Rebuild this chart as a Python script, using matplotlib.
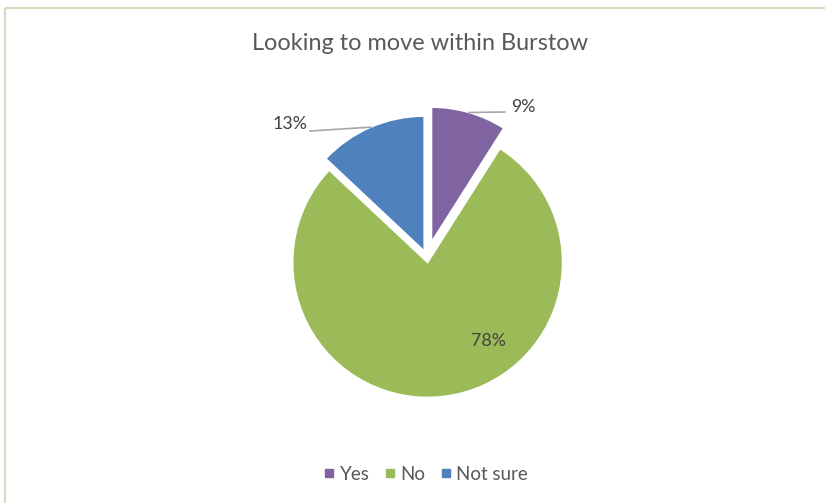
import math
import matplotlib
matplotlib.use("Agg")
import matplotlib.pyplot as plt
from matplotlib.lines import Line2D

categories = ["Yes", "No", "Not sure"]
shares = [9, 78, 13]
colors = ["#8064A2", "#9BBB59", "#4F81BD"]
# slice offsets from the pie centre, in pixels
explode = [16, 5, 7]

W, H = 825, 503
plt.rcParams["font.family"] = ["Lato", "DejaVu Sans"]
fig = plt.figure(figsize=(W / 100, H / 100), dpi=100)
ax = fig.add_axes([0, 0, 1, 1])

cx, cy, R = 427, H - 257.5, 135
wedges, _ = ax.pie(shares, colors=colors, startangle=90, counterclock=False,
                   center=(cx, cy), radius=R, explode=explode,
                   wedgeprops=dict(edgecolor="white", linewidth=1.2))
ax.set_xlim(0, W)
ax.set_ylim(0, H)
ax.set_aspect("equal")
ax.axis("off")

# chart frame (only top/left edges are inside the canvas)
frame = "#DDD9C3"
ax.plot([5, 5], [0, H - 8], color=frame, lw=1.6, solid_capstyle="butt")
ax.plot([5, W], [H - 8, H - 8], color=frame, lw=1.6, solid_capstyle="butt")

ax.text(420, H - 43, "Looking to move within Burstow", ha="center", va="center",
        fontsize=16.9, color="#595959")

# data labels: outside with leader lines for the small slices, inside for the big one
label_pos = [(523, H - 107), None, (290, H - 124)]
line_end = [(505, H - 112), None, (310, H - 131)]
for w, val, pos, end in zip(wedges, shares, label_pos, line_end):
    mid = math.radians((w.theta1 + w.theta2) / 2)
    x0, y0 = w.center
    if pos is None:
        ax.text(488, H - 341, f"{val}%", ha="center", va="center",
                fontsize=12.8, color="#404040")
        continue
    px, py = x0 + R * math.cos(mid), y0 + R * math.sin(mid)
    ax.plot([px, end[0]], [py, end[1]], color="#A6A6A6", lw=1.2)
    ax.text(pos[0], pos[1], f"{val}%", ha="center", va="center",
            fontsize=12.8, color="#404040")

handles = [Line2D([], [], marker="s", linestyle="", markersize=5.5,
                  markerfacecolor=c, markeredgecolor=c) for c in colors]
fig.legend(handles, categories, loc="center", bbox_to_anchor=(424 / W, 1 - 474 / H),
           ncol=3, frameon=False, fontsize=13.5, handletextpad=0.05,
           columnspacing=0.6, handlelength=1.0, labelcolor="#595959")

fig.savefig("out.png", dpi=100)
